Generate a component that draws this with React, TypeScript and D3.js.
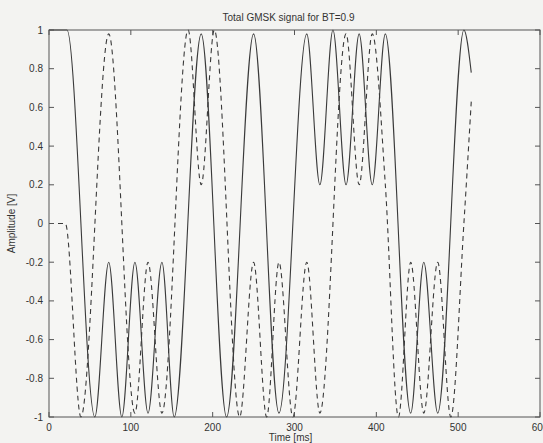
import React from "react";
import * as d3 from "d3";

// Solid curve (in-phase component): extrema [time ms, amplitude V]
const solidT = [0, 22, 56, 73, 89, 105, 121, 138, 153, 186, 217, 250, 281, 315, 331, 347, 363, 379, 395, 411, 442, 458, 475, 507, 516];
const solidV = [1, 1, -1, -0.2, -1, -0.2, -0.98, -0.2, -1, 0.98, -1, 0.98, -0.98, 0.98, 0.2, 1, 0.2, 0.98, 0.2, 0.98, -0.98, -0.2, -0.98, 1, 0.78];

// Dashed curve (quadrature component)
const dashT = [0, 20, 39, 73, 105, 121, 138, 170, 186, 202, 233, 250, 266, 281, 298, 315, 331, 363, 379, 395, 411, 427, 442, 458, 475, 491, 507, 516];
const dashV = [0, 0, -1, 0.98, -0.98, -0.2, -0.98, 1, 0.2, 1, -1, -0.2, -1, -0.2, -1, -0.2, -0.98, 0.98, 0.2, 0.98, 0.2, -1, -0.2, -0.98, -0.2, -1, 0, 0.63];

const xTicks = [0, 100, 200, 300, 400, 500, 600];
const yTicks = [-1, -0.8, -0.6, -0.4, -0.2, 0, 0.2, 0.4, 0.6, 0.8, 1];

const title = "Total GMSK signal for BT=0.9";
const xLabel = "Time [ms]";
const yLabel = "Amplitude [V]";

export default function App() {
  const W = 543, H = 443;
  const left = 49, right = 540, top = 30, bottom = 417;
  const x = d3.scaleLinear().domain([0, 600]).range([left, right]);
  const y = d3.scaleLinear().domain([-1, 1]).range([bottom, top]);

  const line = d3
    .line<[number, number]>()
    .x((d) => x(d[0]))
    .y((d) => y(d[1]))
    .curve(d3.curveMonotoneX);

  const solid = line(solidT.map((t, i) => [t, solidV[i]] as [number, number])) || "";
  const dashed = line(dashT.map((t, i) => [t, dashV[i]] as [number, number])) || "";

  const axisColor = "#555";
  const textColor = "#333";
  const font = "'Liberation Sans', Arial, sans-serif";
  const tl = 5;

  const fmtY = (v: number) => (v === 0 ? "0" : String(v).replace("-", "-"));

  return (
    <svg
      width={W}
      height={H}
      style={{ position: "absolute", left: 0, top: 0, background: "#f3f3f1" }}
      fontFamily={font}
    >
      <rect x={0} y={0} width={W} height={H} fill="#f3f3f1" />
      <rect x={left} y={top} width={right - left} height={bottom - top} fill="#f6f6f4" />
      <defs>
        <clipPath id="plotclip">
          <rect x={left} y={top - 1} width={right - left} height={bottom - top + 2} />
        </clipPath>
      </defs>
      <g clipPath="url(#plotclip)">
        <path d={solid} fill="none" stroke="#3a3a3a" strokeWidth={1.1} />
        <path d={dashed} fill="none" stroke="#3a3a3a" strokeWidth={1.1} strokeDasharray="5,4" />
      </g>
      {/* frame */}
      <rect x={left} y={top} width={right - left} height={bottom - top} fill="none" stroke={axisColor} strokeWidth={1} />
      {/* x ticks */}
      {xTicks.map((t) => (
        <g key={"x" + t}>
          <line x1={x(t)} x2={x(t)} y1={bottom} y2={bottom - tl} stroke={axisColor} />
          <line x1={x(t)} x2={x(t)} y1={top} y2={top + tl} stroke={axisColor} />
          <text x={x(t)} y={bottom + 14} textAnchor="middle" fontSize={10} fill={textColor}>
            {t}
          </text>
        </g>
      ))}
      {/* y ticks */}
      {yTicks.map((v) => (
        <g key={"y" + v}>
          <line x1={left} x2={left + tl} y1={y(v)} y2={y(v)} stroke={axisColor} />
          <line x1={right} x2={right - tl} y1={y(v)} y2={y(v)} stroke={axisColor} />
          <text x={left - 6} y={y(v) + 3.5} textAnchor="end" fontSize={10} fill={textColor}>
            {fmtY(v)}
          </text>
        </g>
      ))}
      <text x={(left + right) / 2 - 6} y={21} textAnchor="middle" fontSize={10} fill={textColor}>
        {title}
      </text>
      <text x={(left + right) / 2 - 4} y={441} textAnchor="middle" fontSize={10} fill={textColor}>
        {xLabel}
      </text>
      <text
        transform={`translate(15, ${(top + bottom) / 2}) rotate(-90)`}
        textAnchor="middle"
        fontSize={10}
        fill={textColor}
      >
        {yLabel}
      </text>
    </svg>
  );
}
